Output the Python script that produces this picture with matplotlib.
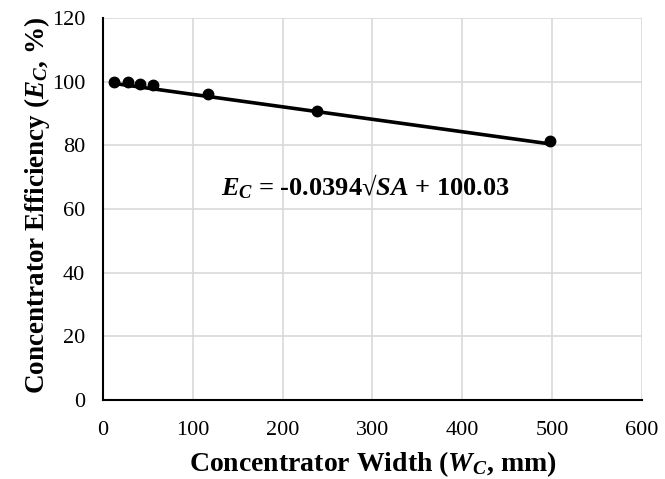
import matplotlib
matplotlib.use("Agg")
import matplotlib.pyplot as plt

# measured points (width mm, efficiency %)
width_mm = [12, 28, 41, 56, 117, 238, 498]
efficiency = [100.0, 99.9, 99.4, 98.9, 96.2, 90.8, 81.4]

# trendline end points
trend_x = [12, 500]
trend_y = [99.5, 80.4]

plt.rcParams["font.family"] = ["Liberation Serif", "DejaVu Serif"]
plt.rcParams["mathtext.fontset"] = "custom"
plt.rcParams["mathtext.rm"] = "Liberation Serif:bold"
plt.rcParams["mathtext.it"] = "Liberation Serif:bold:italic"
plt.rcParams["mathtext.bf"] = "Liberation Serif:bold"

fig = plt.figure(figsize=(6.65, 4.79), dpi=100)
ax = fig.add_axes([0.155, 0.165, 0.81, 0.797])

ax.plot(trend_x, trend_y, color="black", linewidth=2.6, zorder=3)
ax.plot(width_mm, efficiency, "o", color="black", markersize=7.5, zorder=4)

ax.set_xlim(0, 600)
ax.set_ylim(0, 120)
ax.set_xticks(range(0, 601, 100))
ax.set_yticks(range(0, 121, 20))
ax.grid(True, color="#d9d9d9", linewidth=1.2)
ax.set_axisbelow(True)
ax.tick_params(length=0, labelsize=16)
ax.tick_params(axis="x", pad=15)
ax.tick_params(axis="y", pad=13)

for s in ["top", "right"]:
    ax.spines[s].set_visible(False)
for s in ["left", "bottom"]:
    ax.spines[s].set_linewidth(1.5)

ax.set_xlabel("Concentrator Width ($W_C$, mm)", fontsize=20, fontweight="bold")
ax.set_ylabel("Concentrator Efficiency ($E_C$, %)", fontsize=19.5, fontweight="bold")
ax.xaxis.set_label_coords(0.5, -0.128)
ax.yaxis.set_label_coords(-0.094, 0.51)

ax.text(131, 67, "$E_C$ = -0.0394√$SA$ + 100.03", fontsize=19, fontweight="bold",
        va="center", ha="left")

fig.savefig("out.png", dpi=100)
